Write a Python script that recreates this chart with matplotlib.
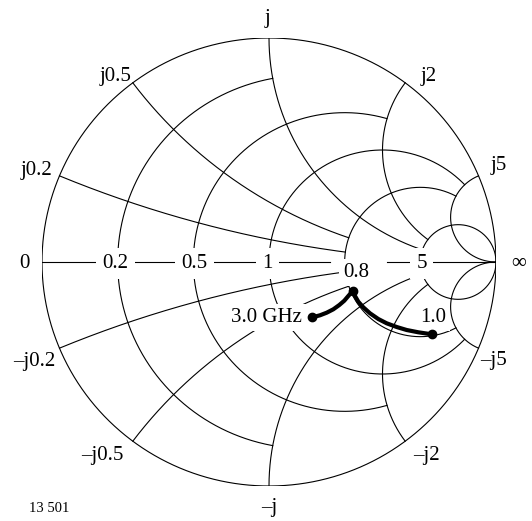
import numpy as np
import matplotlib
matplotlib.use('Agg')
import matplotlib.pyplot as plt

plt.rcParams['font.family'] = ['Liberation Serif', 'DejaVu Serif']

# resistance circles: r, drawn for |x| between x_from and x_to
r_values = [0.2, 0.5, 1, 2, 5]
r_x_from = [0, 0, 0, 0, 1]
r_x_to = [1, 2, 5, 5, np.inf]

# reactance arcs: x, drawn for r between 0 and r_to
x_values = [0.2, 0.5, 1, 2, 5]
x_r_to = [2, 2, 5, 5, np.inf]

# labels on the real axis (normalised resistance)
axis_labels = ['0', '0.2', '0.5', '1', '5', '\u221e']
axis_label_re = [-1.079, -0.676, -0.328, -0.007, 0.674, 1.101]

# reactance labels round the rim
react_labels = ['j', 'j0.5', 'j2', 'j0.2', 'j5',
                '\u2013j0.2', '\u2013j5', '\u2013j0.5', '\u2013j2', '\u2013j']
react_label_re = [-0.007, -0.674, 0.703, -1.026, 1.010,
                  -1.035, 0.991, -0.736, 0.694, 0.000]
react_label_im = [1.087, 0.826, 0.826, 0.408, 0.433,
                  -0.442, -0.438, -0.866, -0.862, -1.097]

# measured trace (reflection coefficient, real / imag)
trace_re = [0.1907, 0.2247, 0.2542, 0.2833, 0.3097, 0.3317, 0.3493, 0.3687,
            0.3789, 0.3934, 0.4154, 0.4449, 0.4815, 0.5185, 0.5626, 0.6066,
            0.6577, 0.7167]
trace_im = [-0.2469, -0.2379, -0.2263, -0.2112, -0.1920, -0.1728, -0.1518, -0.1295,
            -0.1518, -0.1772, -0.2022, -0.2290, -0.2545, -0.2737, -0.2902, -0.3036,
            -0.3138, -0.3228]
marked = [0, 7, 17]
freq_labels = ['3.0 GHz', '0.8', '1.0']
freq_label_re = [-0.013, 0.383, 0.722]
freq_label_im = [-0.248, -0.047, -0.246]


def gamma(z):
    return (z - 1) / (z + 1)


def span(a, b, n=600):
    # tan spacing so that an infinite end is reached smoothly
    t = np.linspace(np.arctan(a), min(np.arctan(b), np.pi / 2 - 1e-5), n)
    return np.tan(t)


fig = plt.figure(figsize=(5.32, 5.21), dpi=100)
ax = fig.add_axes([42 / 532, 35 / 521, 454 / 532, 448 / 521])
ax.set_xlim(-1, 1)
ax.set_ylim(-1, 1)
ax.axis('off')

lw = 0.8
# outer circle
t = np.linspace(0, 2 * np.pi, 800)
ax.plot(np.cos(t), np.sin(t), color='black', lw=lw)

# real axis (gap where the r=2 value is not printed)
ax.plot([-1, 0.27], [0, 0], color='black', lw=lw)
ax.plot([0.52, 1], [0, 0], color='black', lw=lw)

# resistance circles
for r, xa, xb in zip(r_values, r_x_from, r_x_to):
    for s in (1, -1):
        g = gamma(r + 1j * s * span(xa, xb))
        ax.plot(g.real, g.imag, color='black', lw=lw)

# reactance arcs
for x, rb in zip(x_values, x_r_to):
    for s in (1, -1):
        g = gamma(span(0, rb) + 1j * s * x)
        ax.plot(g.real, g.imag, color='black', lw=lw)

box = dict(boxstyle='square,pad=0.2', fc='white', ec='none')
axbox = dict(boxstyle='square,pad=0.3', fc='white', ec='none')
fs = 15

for lab, xr in zip(axis_labels, axis_label_re):
    bb = axbox if lab not in ('0', '\u221e') else None
    ax.text(xr, -0.006, lab, fontsize=fs, ha='center', va='center',
            bbox=bb, zorder=3, clip_on=False)

for lab, xr, xi in zip(react_labels, react_label_re, react_label_im):
    ax.text(xr, xi, lab, fontsize=fs, ha='center', va='center', clip_on=False)

# trace
ax.plot(trace_re, trace_im, color='black', lw=3, solid_capstyle='round',
        solid_joinstyle='round', zorder=4)
ax.plot([trace_re[i] for i in marked], [trace_im[i] for i in marked], 'o',
        color='black', ms=6, zorder=5)
for lab, xr, xi in zip(freq_labels, freq_label_re, freq_label_im):
    ax.text(xr, xi, lab, fontsize=fs, ha='center', va='center',
            bbox=box, zorder=3)

fig.text(49.5 / 532, 1 - 509 / 521, '13 501', fontsize=10.5,
         ha='center', va='center')

fig.savefig('out.png', dpi=100)
